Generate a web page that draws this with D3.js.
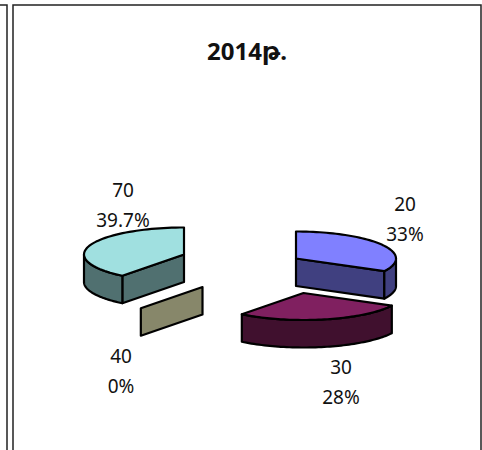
<!DOCTYPE html>
<html><head><meta charset="utf-8">
<script src="https://cdn.jsdelivr.net/npm/d3@7/dist/d3.min.js"></script>
<style>html,body{margin:0;padding:0;background:#fff}svg{display:block}
text{font-family:"Noto Sans","DejaVu Sans",sans-serif;fill:#111}</style></head>
<body><svg id="c" width="482" height="450"></svg>
<script>
const titleText = "2014թ.";
const categories = ["20", "30", "40", "70"];
const shareValues = [33, 28, 0, 39.7];
const shareLabels = ["33%", "28%", "0%", "39.7%"];

// styles & layout
const topColors = ["#8080ff", "#802060", "#87876a", "#a0e0e0"];
const sideColors = ["#404080", "#40102e", "#87876a", "#507070"];
const centers = [[296, 258.5], [303.5, 293], [202.5, 287], [184, 254.5]];
const labelPos = [[405, 205, 235], [341, 368, 398], [121, 357, 387], [123, 191, 221]];
const RX = 100, RY = 27, DEPTH = 27.5;

const svg = d3.select("#c");
const frame = svg.append("g").attr("fill", "none").attr("stroke", "#222").attr("stroke-width", 1.5);
frame.append("path").attr("d", "M0,5H7V450");
frame.append("path").attr("d", "M13,450V5H481V450");

svg.append("text").attr("x", 247).attr("y", 60).attr("text-anchor", "middle")
  .attr("font-size", 24).attr("font-weight", "bold").text(titleText);

const pie = d3.pie().sort(null).value(d => d.v).startAngle(0).endAngle(2 * Math.PI);
const slices = pie(categories.map((c, i) => ({ c, v: shareValues[i], i })));
const sx = d3.scaleLinear().domain([-1, 1]).range([-RX, RX]);
const sy = d3.scaleLinear().domain([-1, 1]).range([-RY, RY]);
const px = a => sx(Math.sin(a));
const py = a => sy(-Math.cos(a));
const line = d3.line();
const samples = (a0, a1) => d3.range(0, 61).map(k => a0 + (a1 - a0) * k / 60);

// which radial wall of each slice faces the viewer
const wallAngle = [s => s.endAngle, () => null, s => s.startAngle, s => s.startAngle];

// back-to-front order
[3, 0, 2, 1].forEach(i => {
  const s = slices[i], [cx, cy] = centers[i];
  const g = svg.append("g").attr("transform", `translate(${cx},${cy})`)
    .attr("stroke", "#000").attr("stroke-width", 2.2).attr("stroke-linejoin", "round");
  const a0 = s.startAngle, a1 = s.endAngle;
  const wa = wallAngle[i](s);
  if (wa !== null) {
    g.append("path").attr("fill", sideColors[i]).attr("d",
      line([[0, 0], [px(wa), py(wa)], [px(wa), py(wa) + DEPTH], [0, DEPTH]]) + "Z");
  }
  // outer rim: the part of the arc on the viewer's side
  const f0 = Math.max(a0, Math.PI / 2), f1 = Math.min(a1, 3 * Math.PI / 2);
  if (f1 > f0) {
    const arc = samples(f0, f1).map(a => [px(a), py(a)]);
    const rim = arc.concat(arc.slice().reverse().map(p => [p[0], p[1] + DEPTH]));
    g.append("path").attr("fill", sideColors[i]).attr("d", line(rim) + "Z");
  }
  // top face
  if (a1 > a0) {
    const arc = samples(a0, a1).map(a => [px(a), py(a)]);
    g.append("path").attr("fill", topColors[i]).attr("d", line([[0, 0]].concat(arc)) + "Z");
  }
});

labelPos.forEach((p, i) => {
  svg.append("text").attr("x", p[0]).attr("y", p[1] + 6).attr("text-anchor", "middle").attr("font-size", 19).text(categories[i]);
  svg.append("text").attr("x", p[0]).attr("y", p[2] + 6).attr("text-anchor", "middle").attr("font-size", 19).text(shareLabels[i]);
});
</script></body></html>
